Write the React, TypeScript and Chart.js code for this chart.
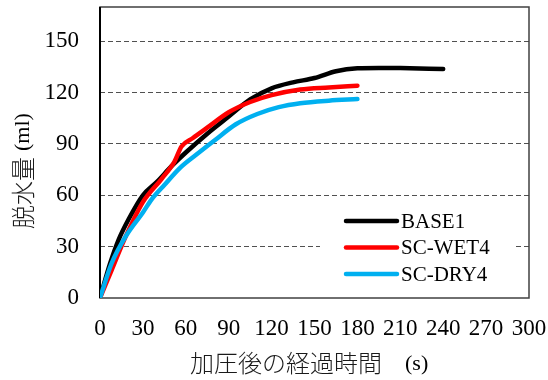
import React, { useEffect, useRef } from "react";
import { Chart, registerables } from "chart.js";

Chart.register(...registerables);

// Elapsed time after pressurising (s) and dewatered volume (ml) for each specimen
const baseTimes = [0, 7, 13, 20, 30, 40, 50, 60, 75, 90, 105, 120, 135, 150, 165, 180, 195, 210, 240];
const baseValues = [0, 20, 34, 46, 60, 68, 77, 85, 96, 106, 116, 122.5, 126, 128.5, 132.5, 134.2, 134.4, 134.3, 133.8];

const wetTimes = [0, 8, 18, 30, 43, 52, 57, 65, 75, 90, 105, 120, 140, 160, 180];
const wetValues = [0, 16, 36, 56, 69.5, 79.5, 88.5, 93.5, 99.5, 108.5, 114.5, 118.5, 121.8, 123, 124];

const dryTimes = [0, 8, 18, 30, 36, 45, 56, 67, 80, 95, 110, 125, 140, 160, 180];
const dryValues = [0, 20, 36, 50, 57.5, 66, 76, 83.5, 92, 101.5, 107.5, 111.5, 113.8, 115.3, 116.2];

const seriesNames = ["BASE1", "SC-WET4", "SC-DRY4"];
const seriesColors = ["#000000", "#ff0000", "#00b0f0"];

// Axis titles: Japanese part and unit part
const xTitleMain = "加圧後の経過時間";
const xTitleUnit = "(s)";
const yTitleMain = "脱水量";
const yTitleUnit = "(ml)";

const xMin = 0, xMax = 300, xStep = 30;
const yMin = 0, yMax = 170, yStep = 30;

const SERIF = '"Liberation Serif", "Times New Roman", serif';
const CJK = '"Noto Sans CJK JP", "Noto Sans CJK SC", sans-serif';

const toPoints = (xs: number[], ys: number[]) => xs.map((x, i) => ({ x, y: ys[i] }));

// Plot frame drawn beneath the curves
const framePlugin = {
  id: "frame",
  beforeDatasetsDraw(chart: any) {
    const { ctx, chartArea: a } = chart;
    ctx.save();
    ctx.strokeStyle = "#404040";
    ctx.lineWidth = 1.5;
    ctx.strokeRect(a.left, a.top, a.right - a.left, a.bottom - a.top);
    ctx.strokeStyle = "#000000";
    ctx.lineWidth = 2;
    ctx.beginPath();
    ctx.moveTo(a.left, a.top);
    ctx.lineTo(a.left, a.bottom);
    ctx.stroke();
    ctx.restore();
  },
};

// Axis titles and the in-plot legend box
const overlayPlugin = {
  id: "overlay",
  afterDraw(chart: any) {
    const { ctx } = chart;

    // horizontal axis title
    ctx.save();
    ctx.fillStyle = "#1a1a1a";
    ctx.textAlign = "left";
    ctx.textBaseline = "middle";
    ctx.font = `300 24px ${CJK}`;
    ctx.fillText(xTitleMain, 190, 363);
    ctx.fillStyle = "#000000";
    ctx.font = `22px ${SERIF}`;
    ctx.fillText(xTitleUnit, 405, 364);
    ctx.restore();

    // vertical axis title, reading bottom to top
    ctx.save();
    ctx.fillStyle = "#1a1a1a";
    ctx.translate(22.5, 229);
    ctx.rotate(-Math.PI / 2);
    ctx.textAlign = "left";
    ctx.textBaseline = "middle";
    ctx.font = `300 24px ${CJK}`;
    ctx.fillText(yTitleMain, 0, 0);
    const w = ctx.measureText(yTitleMain).width;
    ctx.fillStyle = "#000000";
    ctx.font = `22px ${SERIF}`;
    ctx.fillText(yTitleUnit, w + 6, 1);
    ctx.restore();

    // legend
    ctx.save();
    ctx.fillStyle = "#ffffff";
    ctx.fillRect(320, 207, 193, 82);
    const rows = [221, 247.5, 274];
    chart.data.datasets.forEach((ds: any, i: number) => {
      const y = rows[i];
      ctx.strokeStyle = ds.borderColor;
      ctx.lineWidth = 4.5;
      ctx.lineCap = "round";
      ctx.beginPath();
      ctx.moveTo(346, y);
      ctx.lineTo(397, y);
      ctx.stroke();
      ctx.fillStyle = "#000000";
      ctx.font = `21px ${SERIF}`;
      ctx.textAlign = "left";
      ctx.textBaseline = "middle";
      ctx.fillText(ds.label, 401, y + 1);
    });
    ctx.restore();
  },
};

export default function App() {
  const canvasRef = useRef<HTMLCanvasElement | null>(null);

  useEffect(() => {
    if (!canvasRef.current) return;
    const allTimes = [baseTimes, wetTimes, dryTimes];
    const allValues = [baseValues, wetValues, dryValues];
    const chart = new Chart(canvasRef.current, {
      type: "line",
      data: {
        datasets: seriesNames.map((name, i) => ({
          label: name,
          data: toPoints(allTimes[i], allValues[i]),
          borderColor: seriesColors[i],
          backgroundColor: seriesColors[i],
          borderWidth: 4.5,
          borderCapStyle: "round" as const,
          borderJoinStyle: "round" as const,
          pointRadius: 0,
          cubicInterpolationMode: "monotone" as const,
          fill: false,
          order: 3 - i,
        })),
      },
      options: {
        animation: false,
        responsive: true,
        maintainAspectRatio: false,
        layout: { padding: { left: 0, right: 19, top: 7, bottom: 0 } },
        plugins: {
          legend: { display: false },
          tooltip: { enabled: false },
        },
        scales: {
          x: {
            type: "linear",
            min: xMin,
            max: xMax,
            afterFit: (s: any) => {
              s.height = 82;
              s.paddingLeft = 0;
              s.paddingRight = 0;
            },
            grid: { display: false, drawTicks: false },
            border: { display: false },
            ticks: {
              stepSize: xStep,
              padding: 17,
              color: "#000000",
              font: { family: SERIF, size: 23 },
              maxRotation: 0,
              autoSkip: false,
            },
          },
          y: {
            type: "linear",
            min: yMin,
            max: yMax,
            afterFit: (s: any) => {
              s.width = 100;
              s.paddingTop = 0;
              s.paddingBottom = 0;
            },
            grid: {
              drawTicks: false,
              lineWidth: 1,
              color: (c: any) => (c.tick && c.tick.value === 0 ? "rgba(0,0,0,0)" : "#505050"),
            },
            border: { display: false, dash: [5, 3] },
            ticks: {
              stepSize: yStep,
              includeBounds: false,
              padding: 21,
              color: "#000000",
              font: { family: SERIF, size: 23 },
            },
          },
        },
      },
      plugins: [framePlugin, overlayPlugin],
    });
    return () => chart.destroy();
  }, []);

  return (
    <div style={{ position: "fixed", left: 0, top: 0, width: 548, height: 380, background: "#ffffff" }}>
      <canvas ref={canvasRef} />
    </div>
  );
}
